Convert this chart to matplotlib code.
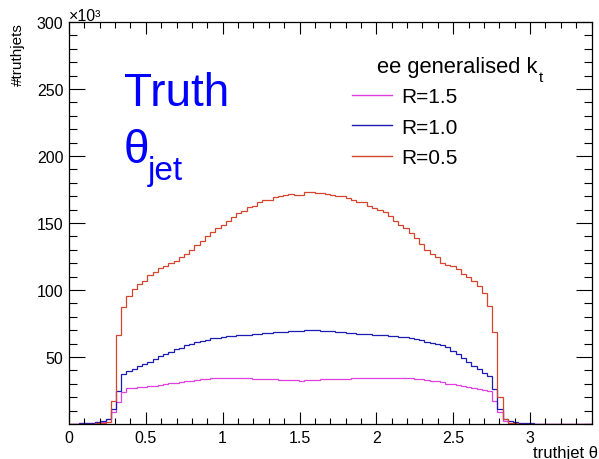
#import libraries
import numpy as np
import matplotlib
matplotlib.use('Agg')
import matplotlib.pyplot as plt
from matplotlib.lines import Line2D
from matplotlib.ticker import MultipleLocator, FixedLocator, FormatStrFormatter

plt.rcParams['font.family'] = ['Liberation Sans', 'DejaVu Sans']

#histogram binning (100 bins from 0 to 3.4)
n_bins = 100
x_min = 0.0
x_max = 3.4

#bin contents in thousands of jets
r05 = [0, 0, 0.1, 0.2, 0.3, 0.5, 0.7, 1.5, 17.4, 66.7,
       87, 95.8, 100.7, 104.5, 107, 111, 113.7, 116.2, 118.2, 120,
       122, 124.4, 126.9, 130, 133.6, 136.8, 140, 143.5, 146.5, 148.5,
       151.7, 154.2, 157.5, 159, 161.7, 163, 165.5, 167, 167.5, 169.2,
       170.4, 171.1, 171.3, 171.2, 170.7, 172.9, 173.4, 172.4, 172.2, 172,
       171, 170.5, 169.9, 168.7, 167.2, 166, 165.5, 162.5, 161, 160,
       158, 155, 151.7, 148.5, 146, 142.5, 138.6, 134.3, 130, 126.8,
       124.3, 120.1, 118.7, 117.7, 115.7, 112, 109.5, 107, 103, 98,
       88, 68.4, 20, 3.5, 1, 0.4, 0.2, 0, 0, 0,
       0, 0, 0, 0, 0, 0, 0, 0, 0, 0]

r10 = [0, 0, 0.5, 0.7, 1.0, 1.4, 2.0, 4.0, 11.2, 25,
       37, 39.5, 41, 43, 44.8, 46.5, 48.5, 50.5, 52, 54,
       56, 57, 59, 60, 61, 62, 63, 64, 64.5, 65,
       65.3, 66, 66.2, 66.4, 66.6, 67, 67.2, 67.6, 68, 68.4,
       68.9, 69, 69.4, 69.5, 69.6, 70, 70.4, 70, 69.4, 69.4,
       69.4, 69, 68.5, 68, 67.8, 67.5, 67, 67, 66.6, 66.4,
       66.2, 66, 65.6, 65.2, 64.8, 64.2, 63.4, 62.5, 61.5, 60.5,
       59.8, 59, 57.2, 54.7, 52.2, 48.9, 46.5, 43.5, 41, 38,
       36, 26, 11.2, 3.8, 2.5, 1.5, 1.0, 0.8, 0.5, 0.3,
       0, 0, 0, 0, 0, 0, 0, 0, 0, 0]

r15 = [0, 0, 0.4, 0.6, 0.9, 1.2, 1.8, 3.5, 8.7, 16.7,
       24, 26.6, 27, 27.3, 27.6, 28, 28.5, 29.3, 29.8, 30.6,
       30.8, 31.3, 31.8, 32.3, 32.8, 33.3, 33.8, 34.3, 34.4, 34.5,
       34.5, 34.4, 34.3, 34.2, 34, 33.8, 33.8, 33.7, 33.5, 33.3,
       33.2, 33, 32.9, 32.6, 32.4, 32.5, 32.6, 33, 33.3, 33.5,
       33.6, 33.7, 33.8, 33.9, 34, 34.2, 34.3, 34.5, 34.6, 34.7,
       34.7, 34.6, 34.6, 34.5, 34.3, 34, 33.7, 33.3, 32.9, 32.4,
       31.8, 31, 30.2, 29.6, 29, 28.2, 27.6, 27, 26.4, 25.6,
       24.8, 16.8, 9.2, 2.5, 1, 0.5, 0.3, 0.1, 0, 0,
       0, 0, 0, 0, 0, 0, 0, 0, 0, 0]

labels = ['R=1.5', 'R=1.0', 'R=0.5']
colors = ['#e040e0', '#1c1cb4', '#d4452f']

edges = np.linspace(x_min, x_max, n_bins + 1)

fig = plt.figure(figsize=(5.99, 4.60), dpi=100)
ax = fig.add_axes([69 / 599, 1 - 425 / 460, (591.5 - 69) / 599, 402 / 460])

#draw histograms, R=0.5 last so it sits on top
for vals, col in zip([r15, r10, r05], colors):
    ax.stairs(vals, edges, color=col, linewidth=0.9, baseline=0)

ax.set_xlim(x_min, x_max)
ax.set_ylim(0, 300)

#ROOT-like ticks
ax.xaxis.set_major_locator(MultipleLocator(0.5))
ax.xaxis.set_minor_locator(MultipleLocator(0.1))
ax.xaxis.set_major_formatter(FormatStrFormatter('%g'))
ax.yaxis.set_major_locator(FixedLocator([50, 100, 150, 200, 250, 300]))
ax.yaxis.set_minor_locator(MultipleLocator(10))
ax.tick_params(axis='x', which='both', direction='in', top=True, bottom=True,
               labelsize=11.5, pad=4)
ax.tick_params(axis='x', which='major', length=8.6, width=0.8)
ax.tick_params(axis='x', which='minor', length=4.3, width=0.8)
ax.tick_params(axis='y', which='both', direction='in', left=True, right=True,
               labelsize=11.5, pad=4)
ax.tick_params(axis='y', which='major', length=11.5, width=0.8)
ax.tick_params(axis='y', which='minor', length=5.8, width=0.8)
for s in ax.spines.values():
    s.set_linewidth(0.9)

#axis titles
fig.text(18 / 599, 1 - 23 / 460, '#truthjets', rotation=90, ha='center', va='top', fontsize=11)
fig.text(598 / 599, 1 - 458 / 460, 'truthjet θ', ha='right', va='baseline', fontsize=12)
fig.text(69 / 599, 1 - 21 / 460, '×10³', ha='left', va='baseline', fontsize=11.5)

#big labels
fig.text(124 / 599, 1 - 106 / 460, 'Truth', color='blue', fontsize=33, va='baseline')
fig.text(124 / 599, 1 - 163 / 460, 'θ', color='blue', fontsize=33, va='baseline')
fig.text(148 / 599, 1 - 180 / 460, 'jet', color='blue', fontsize=24, va='baseline')

#legend
fig.text(377 / 599, 1 - 73 / 460, 'ee generalised k', fontsize=15.8, va='baseline')
fig.text(539 / 599, 1 - 82 / 460, 't', fontsize=11, va='baseline')
handles = [Line2D([], [], color=c, linewidth=1.0) for c in colors]
ax.legend(handles, labels, loc='upper left', bbox_to_anchor=(352 / 599, 1 - 88 / 460),
          bbox_transform=fig.transFigure, frameon=False, fontsize=15,
          handlelength=1.9, handletextpad=0.45, labelspacing=0.56,
          borderpad=0, borderaxespad=0)

fig.savefig('out.png', dpi=100)
